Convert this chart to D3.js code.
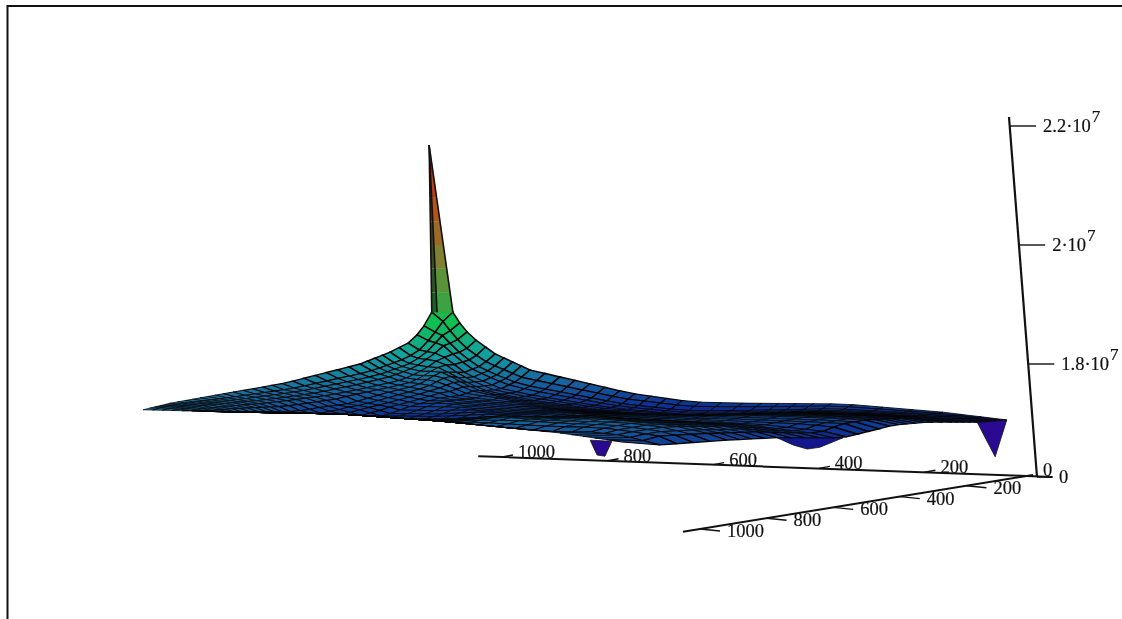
<!DOCTYPE html>
<html>
<head>
    <title>Surface plot</title>
    <script src="https://d3js.org/d3.v7.min.js"></script>
    <style>
        html, body { margin: 0; padding: 0; background: #fff; overflow: hidden; }
        text { font-family: "Liberation Serif", serif; font-size: 18.5px; fill: #111; stroke: #111; stroke-width: 0.2px; }
    </style>
</head>
<body>
    <div id="chart"></div>
    <script>
        // axis ticks
        var backTicks = [200, 400, 600, 800, 1000];
        var frontTicks = [200, 400, 600, 800, 1000];
        var zTicks = [1.61, 1.8, 2, 2.2];
        var zLabels = ["0", "1.8·10", "2·10", "2.2·10"];

        // surface outline: mesh index, position along the back axis, height (in 1e7)
        var farLeftIdx = [0, 1, 2, 3, 4, 6, 10, 20, 30, 40, 48];
        var farLeftU = [1114, 1133, 1148, 1161, 1178, 1212, 1269, 1411, 1534, 1629, 1680];
        var farLeftZ = [1.907, 1.887, 1.864, 1.849, 1.835, 1.820, 1.800, 1.768, 1.749, 1.734, 1.723];

        var farRightIdx = [0, 1, 2, 3, 4, 6, 10, 20, 26, 30, 38, 43, 48];
        var farRightU = [1114, 1093, 1080, 1066, 1049, 1013, 947, 758, 638, 530, 354, 165, 44];
        var farRightZ = [1.907, 1.887, 1.869, 1.854, 1.840, 1.817, 1.790, 1.751, 1.736, 1.734, 1.733, 1.719, 1.706];

        var leftNearIdx = [0, 10, 20, 30, 40, 48];
        var leftNearU = [1680, 1496, 1307, 1117, 890, 773];
        var leftNearZ = [1.723, 1.719, 1.716, 1.704, 1.684, 1.669];

        var rightNearIdx = [0, 6, 14, 20, 27, 34, 40, 46, 48];
        var rightNearU = [44, 100, 195, 259, 354, 479, 574, 701, 773];
        var rightNearZ = [1.706, 1.702, 1.702, 1.697, 1.676, 1.676, 1.672, 1.664, 1.669];

        // rows bunch at the lower edge, this spreads them out between the outlines
        var shareIn = [0, 0.2, 0.5, 0.8, 0.95, 1];
        var shareOut = [0, 0.18, 0.36, 0.6, 0.85, 1];

        // which mesh lines get drawn: every one near the spike, then sparser
        var meshLines = [0, 1, 2, 3, 4, 5, 6, 7, 8, 9, 10, 11.5, 13, 14.5, 16, 17.5, 19, 20.5, 22, 23.5, 25, 26.5, 28, 29.5, 31, 32.5, 34, 35.5, 37, 38.5, 40, 41.5, 43, 44.5, 46, 48];

        // the spike on the far corner
        var spikeLevels = [2.168, 2.12, 2.08, 2.04, 2.0, 1.96, 1.92, 1.887];
        var spikeTipU = 1138;
        var spikeBaseU = [1133, 1123, 1093];

        // three dips below the lower edge
        var dipU = [[833, 820, 805, 792], [479, 449, 422, 398, 354], [100, 66, 44]];
        var dipZ = [[1.672, 1.647, 1.645, 1.670], [1.676, 1.664, 1.657, 1.660, 1.676], [1.702, 1.644, 1.706]];
        var dipShade = [1.625, 1.68, 1.64];

        // colour ramp against true height, and how far the floor sits from the drawing plane at each corner
        var shadeZ = [1.644, 1.694, 1.744, 1.786, 1.837, 1.93, 2.01, 2.10, 2.16];
        var shadeColor = ["#2a0a90", "#0a1a8c", "#1666a0", "#14a0a0", "#10c050", "#40a040", "#8a7a30", "#c04a18", "#c81a10"];
        var floorOffset = { far: -0.035, left: 0.025, right: -0.01, near: 0.055 };

        var N = 48;

        var svg = d3.select("#chart").append("svg")
            .attr("width", 1122)
            .attr("height", 619);

        // picture frame
        svg.append("path")
            .attr("d", "M7.5,619V6H1122")
            .attr("fill", "none")
            .attr("stroke", "#111")
            .attr("stroke-width", 2);

        var xU = d3.scaleLinear().domain([0, 1000]).range([1030, 502]);
        var yZ = d3.scaleLinear().domain([1.61, 1.8, 2, 2.2]).range([477, 364, 245, 126]);
        var color = d3.scaleLinear().domain(shadeZ).range(shadeColor).clamp(true);
        var lineWidth = d3.scaleLinear().domain([2, 10]).range([0.7, 1.5]).clamp(true);
        var spread = d3.scaleLinear().domain(shareIn).range(shareOut).clamp(true);

        var farLeft = [d3.scaleLinear().domain(farLeftIdx).range(farLeftU), d3.scaleLinear().domain(farLeftIdx).range(farLeftZ)];
        var farRight = [d3.scaleLinear().domain(farRightIdx).range(farRightU), d3.scaleLinear().domain(farRightIdx).range(farRightZ)];
        var leftNear = [d3.scaleLinear().domain(leftNearIdx).range(leftNearU), d3.scaleLinear().domain(leftNearIdx).range(leftNearZ)];
        var rightNear = [d3.scaleLinear().domain(rightNearIdx).range(rightNearU), d3.scaleLinear().domain(rightNearIdx).range(rightNearZ)];

        // upper and lower outline as heights against position
        var topAt = d3.scaleLinear()
            .domain(farRightU.slice().reverse().concat(farLeftU.slice(1)))
            .range(farRightZ.slice().reverse().concat(farLeftZ.slice(1)));
        var bottomAt = d3.scaleLinear()
            .domain(rightNearU.concat(leftNearU.slice(0, -1).reverse()))
            .range(rightNearZ.concat(leftNearZ.slice(0, -1).reverse()));

        // fill the inside of the mesh from its four edges
        function blend(i, j, k) {
            var s = i / N, t = j / N;
            var corners = (1 - s) * (1 - t) * farLeft[k](0) + s * (1 - t) * farLeft[k](N)
                + (1 - s) * t * farRight[k](N) + s * t * leftNear[k](N);
            return (1 - t) * farLeft[k](i) + t * rightNear[k](i) + (1 - s) * farRight[k](j) + s * leftNear[k](j) - corners;
        }

        function node(i, j) {
            var u = blend(i, j, 0), z = blend(i, j, 1);
            var hi = topAt(u), lo = bottomAt(u);
            if (hi - lo < 0.002) return { u: u, z: z };
            return { u: u, z: hi - (hi - lo) * spread((hi - z) / (hi - lo)) };
        }

        function trueHeight(i, j, z) {
            var s = i / N, t = j / N;
            return z + (1 - s) * (1 - t) * floorOffset.far + s * (1 - t) * floorOffset.left
                + (1 - s) * t * floorOffset.right + s * t * floorOffset.near;
        }

        var cells = [];
        d3.pairs(meshLines).forEach(function(a) {
            d3.pairs(meshLines).forEach(function(b) {
                var pts = [node(a[0], b[0]), node(a[1], b[0]), node(a[1], b[1]), node(a[0], b[1])];
                cells.push({
                    pts: pts,
                    order: a[0] + b[0],
                    h: trueHeight((a[0] + a[1]) / 2, (b[0] + b[1]) / 2, d3.mean(pts, function(p) { return p.z; })),
                    size: yZ(d3.min(pts, function(p) { return p.z; })) - yZ(d3.max(pts, function(p) { return p.z; }))
                });
            });
        });
        cells.sort(function(a, b) { return a.order - b.order; });

        var surfaceLine = d3.line()
            .x(function(p) { return xU(p.u); })
            .y(function(p) { return yZ(p.z); })
            .curve(d3.curveLinearClosed);

        var plot = svg.append("g").style("filter", "blur(0.6px)");

        // dips go under the surface
        dipU.forEach(function(us, k) {
            plot.append("path")
                .attr("d", surfaceLine(us.map(function(u, m) { return { u: u, z: dipZ[k][m] }; })))
                .attr("fill", color(dipShade[k]))
                .attr("stroke", "#111")
                .attr("stroke-width", 0.8);
        });

        plot.selectAll("path.cell")
            .data(cells)
            .enter().append("path")
            .attr("class", "cell")
            .attr("d", function(d) { return surfaceLine(d.pts); })
            .attr("fill", function(d) { return color(d.h); })
            .attr("stroke", "#050505")
            .attr("stroke-width", function(d) { return lineWidth(d.size); });

        // spike, stacked slices so the colour climbs with height
        var tipScale = d3.scaleLinear().domain([spikeLevels[0], spikeLevels[spikeLevels.length - 1]]);
        var midU = tipScale.copy().range([spikeTipU, spikeBaseU[1]]);
        var rightU = tipScale.copy().range([spikeTipU, spikeBaseU[2]]);
        var leftU = tipScale.copy().range([spikeTipU, spikeBaseU[0]]);

        d3.pairs(spikeLevels).forEach(function(pair) {
            var top = pair[0], bot = pair[1], shade = (top + bot) / 2;
            plot.append("path")
                .attr("d", surfaceLine([{ u: midU(top), z: top }, { u: rightU(top), z: top }, { u: rightU(bot), z: bot }, { u: midU(bot), z: bot }]))
                .attr("fill", color(shade + 0.02))
                .attr("stroke", color(shade + 0.02))
                .attr("stroke-width", 0.4);
            plot.append("path")
                .attr("d", surfaceLine([{ u: leftU(top), z: top }, { u: midU(top), z: top }, { u: midU(bot), z: bot }, { u: leftU(bot), z: bot }]))
                .attr("fill", d3.color(color(shade)).darker(1.6))
                .attr("stroke", "none");
        });

        spikeBaseU.forEach(function(u) {
            plot.append("line")
                .attr("x1", xU(spikeTipU)).attr("y1", yZ(spikeLevels[0]))
                .attr("x2", xU(u)).attr("y2", yZ(spikeLevels[spikeLevels.length - 1]))
                .attr("stroke", "#111")
                .attr("stroke-width", 1.6);
        });

        // axes
        var axes = svg.append("g").style("filter", "blur(0.4px)");

        function axisLine(p, q, w) {
            axes.append("line")
                .attr("x1", p[0]).attr("y1", p[1])
                .attr("x2", q[0]).attr("y2", q[1])
                .attr("stroke", "#111")
                .attr("stroke-width", w || 2);
        }

        var backX = d3.scaleLinear().domain([0, 1000]).range([1030, 502]);
        var backY = d3.scaleLinear().domain([0, 1000]).range([476, 457]);
        var frontX = d3.scaleLinear().domain([0, 1000]).range([1033, 700]);
        var frontY = d3.scaleLinear().domain([0, 1000]).range([475, 529]);
        var zX = d3.scaleLinear().domain([1.61, 2.2]).range([1037, 1010]);

        axisLine([backX(1045), backY(1045)], [1052, 477]);
        axisLine([frontX(1051), frontY(1051)], [frontX(0), frontY(0)]);
        axisLine([zX(1.61), 477], [1009, 117], 2.2);

        backTicks.forEach(function(v) {
            axisLine([backX(v), backY(v)], [backX(v) + 11, backY(v) - 2], 1.4);
            axes.append("text")
                .attr("x", backX(v) + 16)
                .attr("y", backY(v) + 1)
                .text(v);
        });

        frontTicks.forEach(function(v) {
            axisLine([frontX(v), frontY(v)], [frontX(v) + 20, frontY(v) + 2], 1.4);
            axes.append("text")
                .attr("x", frontX(v) + 27)
                .attr("y", frontY(v) + 8)
                .text(v);
        });

        zTicks.forEach(function(v, k) {
            axisLine([zX(v), yZ(v)], [zX(v) + (k === 0 ? 16 : 26), yZ(v)], 1.4);
            var label = axes.append("text")
                .attr("x", zX(v) + (k === 0 ? 22 : 33))
                .attr("y", yZ(v) + 6)
                .text(zLabels[k]);
            if (k > 0) {
                label.append("tspan")
                    .attr("dy", -10)
                    .attr("dx", 1)
                    .attr("font-size", "17px")
                    .text("7");
            }
        });

        axes.append("text")
            .attr("x", 1043)
            .attr("y", 476)
            .text("0");
    </script>
</body>
</html>
